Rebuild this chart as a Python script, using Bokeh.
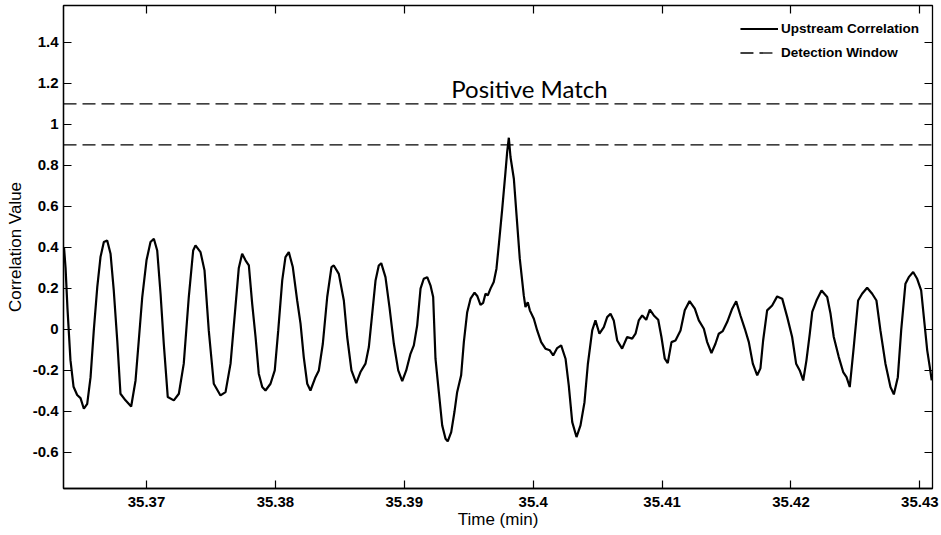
from bokeh.plotting import figure
from bokeh.models import (Range1d, LinearAxis, FixedTicker, CustomJSTickFormatter,
                          Legend, LegendItem, Label)
from bokeh.embed import file_html
from bokeh.resources import INLINE

# Upstream correlation trace: time (min) and correlation value
time_min = [
    35.36360, 35.36372, 35.36387, 35.36410, 35.36434, 35.36462, 35.36488, 35.36514, 35.36540, 35.36566,
    35.36591, 35.36618, 35.36643, 35.36669, 35.36695, 35.36721, 35.36746, 35.36773, 35.36798, 35.36837,
    35.36881, 35.36915, 35.36940, 35.36967, 35.37000, 35.37031, 35.37057, 35.37083, 35.37109, 35.37134,
    35.37165, 35.37212, 35.37251, 35.37289, 35.37328, 35.37362, 35.37380, 35.37419, 35.37450, 35.37483,
    35.37522, 35.37574, 35.37613, 35.37652, 35.37690, 35.37716, 35.37742, 35.37768, 35.37794, 35.37820,
    35.37846, 35.37871, 35.37898, 35.37923, 35.37962, 35.37995, 35.38022, 35.38053, 35.38078, 35.38104,
    35.38135, 35.38169, 35.38195, 35.38220, 35.38247, 35.38272, 35.38311, 35.38337, 35.38368, 35.38402,
    35.38435, 35.38453, 35.38492, 35.38531, 35.38557, 35.38590, 35.38627, 35.38660, 35.38699, 35.38725,
    35.38751, 35.38777, 35.38802, 35.38821, 35.38854, 35.38885, 35.38919, 35.38953, 35.38984, 35.39015,
    35.39048, 35.39074, 35.39100, 35.39126, 35.39151, 35.39178, 35.39203, 35.39224, 35.39242, 35.39268,
    35.39294, 35.39320, 35.39337, 35.39364, 35.39389, 35.39410, 35.39441, 35.39462, 35.39488, 35.39514,
    35.39545, 35.39566, 35.39591, 35.39612, 35.39630, 35.39648, 35.39669, 35.39694, 35.39715, 35.39733,
    35.39760, 35.39785, 35.39798, 35.39811, 35.39824, 35.39850, 35.39871, 35.39896, 35.39927, 35.39940,
    35.39958, 35.39974, 35.40005, 35.40031, 35.40062, 35.40095, 35.40129, 35.40155, 35.40186, 35.40217,
    35.40251, 35.40276, 35.40303, 35.40336, 35.40367, 35.40398, 35.40424, 35.40458, 35.40483, 35.40514,
    35.40548, 35.40574, 35.40600, 35.40625, 35.40652, 35.40690, 35.40729, 35.40768, 35.40794, 35.40819,
    35.40846, 35.40877, 35.40905, 35.40936, 35.40970, 35.40995, 35.41021, 35.41044, 35.41073, 35.41104,
    35.41143, 35.41176, 35.41213, 35.41254, 35.41285, 35.41324, 35.41350, 35.41383, 35.41414, 35.41440,
    35.41471, 35.41505, 35.41544, 35.41575, 35.41608, 35.41642, 35.41673, 35.41704, 35.41738, 35.41763,
    35.41784, 35.41815, 35.41854, 35.41893, 35.41932, 35.41971, 35.42009, 35.42040, 35.42068, 35.42095,
    35.42120, 35.42146, 35.42165, 35.42198, 35.42237, 35.42281, 35.42307, 35.42332, 35.42371, 35.42405,
    35.42431, 35.42456, 35.42487, 35.42521, 35.42552, 35.42591, 35.42630, 35.42663, 35.42694, 35.42733,
    35.42772, 35.42798, 35.42829, 35.42855, 35.42888, 35.42914, 35.42948, 35.42979, 35.43010, 35.43036,
    35.43057, 35.43077, 35.43092,
]
correlation = [
    0.400, 0.300, 0.100, -0.150, -0.280, -0.320, -0.335, -0.387, -0.363, -0.233,
    -0.005, 0.206, 0.353, 0.426, 0.434, 0.369, 0.190, -0.054, -0.314, -0.346,
    -0.376, -0.249, -0.054, 0.158, 0.337, 0.426, 0.442, 0.385, 0.174, -0.070,
    -0.330, -0.346, -0.314, -0.167, 0.158, 0.385, 0.410, 0.377, 0.288, -0.005,
    -0.265, -0.322, -0.306, -0.167, 0.110, 0.300, 0.369, 0.337, 0.312, 0.125,
    -0.037, -0.216, -0.281, -0.298, -0.265, -0.200, -0.005, 0.239, 0.353, 0.377,
    0.304, 0.141, 0.028, -0.135, -0.265, -0.298, -0.233, -0.200, -0.070, 0.158,
    0.304, 0.312, 0.271, 0.141, -0.037, -0.200, -0.262, -0.208, -0.167, -0.086,
    0.076, 0.239, 0.312, 0.323, 0.255, 0.109, -0.070, -0.200, -0.252, -0.200,
    -0.119, -0.078, 0.020, 0.199, 0.247, 0.255, 0.215, 0.158, -0.143, -0.306,
    -0.468, -0.533, -0.546, -0.501, -0.403, -0.306, -0.224, -0.062, 0.084, 0.150,
    0.179, 0.163, 0.120, 0.130, 0.174, 0.166, 0.199, 0.231, 0.296, 0.410,
    0.589, 0.767, 0.865, 0.935, 0.841, 0.735, 0.556, 0.345, 0.166, 0.109,
    0.133, 0.093, 0.052, -0.005, -0.062, -0.094, -0.102, -0.127, -0.091, -0.078,
    -0.143, -0.273, -0.452, -0.525, -0.468, -0.355, -0.170, -0.005, 0.044, -0.021,
    0.011, 0.060, 0.076, 0.044, -0.054, -0.094, -0.037, -0.045, -0.021, 0.044,
    0.068, 0.047, 0.096, 0.068, 0.047, -0.037, -0.143, -0.164, -0.062, -0.054,
    -0.005, 0.093, 0.138, 0.101, 0.044, 0.003, -0.062, -0.115, -0.070, -0.021,
    -0.008, 0.036, 0.101, 0.137, 0.068, 0.003, -0.062, -0.167, -0.224, -0.190,
    -0.054, 0.093, 0.117, 0.161, 0.150, 0.060, -0.037, -0.167, -0.200, -0.249,
    -0.151, -0.021, 0.085, 0.141, 0.190, 0.158, 0.076, -0.037, -0.135, -0.208,
    -0.233, -0.281, -0.086, 0.141, 0.174, 0.203, 0.174, 0.141, -0.005, -0.167,
    -0.281, -0.317, -0.233, -0.005, 0.223, 0.255, 0.280, 0.247, 0.190, 0.028,
    -0.102, -0.184, -0.249,
]

# Detection window bounds
window_bounds = [0.9, 1.1]

# Axis ticks
x_ticks = [35.37, 35.38, 35.39, 35.40, 35.41, 35.42, 35.43]
y_ticks = [-0.6, -0.4, -0.2, 0.0, 0.2, 0.4, 0.6, 0.8, 1.0, 1.2, 1.4]

# Axis limits
x_lo, x_hi = 35.36356, 35.43098
y_lo, y_hi = -0.776, 1.58

annotation_text = "Positive Match"
annotation_x, annotation_y = 35.39971, 1.176

FONT = "Liberation Sans"

p = figure(width=941, height=535, output_backend="svg", toolbar_location=None,
           x_range=Range1d(x_lo, x_hi), y_range=Range1d(y_lo, y_hi),
           min_border_left=63, min_border_right=9, min_border_top=5, min_border_bottom=47,
           x_axis_label="Time (min)", y_axis_label="Correlation Value")

p.xgrid.visible = False
p.ygrid.visible = False
p.outline_line_color = "black"
p.outline_line_width = 1.3
p.background_fill_color = "white"
p.border_fill_color = "white"

x_fmt = CustomJSTickFormatter(code="return (Math.round(tick * 100) / 100).toString();")
y_fmt = CustomJSTickFormatter(code="const v = Math.round(tick * 10) / 10; return v === 0 ? '0' : v.toString();")

for ax, ticks, fmt in ((p.xaxis[0], x_ticks, x_fmt), (p.yaxis[0], y_ticks, y_fmt)):
    ax.ticker = FixedTicker(ticks=ticks)
    ax.formatter = fmt
    ax.major_tick_in = 8
    ax.major_tick_out = 0
    ax.minor_tick_line_color = None
    ax.major_tick_line_width = 1.2
    ax.axis_line_width = 1.3
    ax.major_label_text_font = FONT
    ax.major_label_text_font_style = "bold"
    ax.major_label_text_font_size = "15px"
    ax.major_label_text_color = "black"
    ax.axis_label_text_font = FONT
    ax.axis_label_text_font_style = "normal"
    ax.axis_label_text_font_size = "17px"
    ax.axis_label_text_color = "black"

p.xaxis[0].major_label_standoff = 8
p.xaxis[0].axis_label_standoff = 0
p.yaxis[0].major_label_standoff = 5
p.yaxis[0].axis_label_standoff = 5

# Mirrored tick marks (no labels) on the top and right edges of the box
top_axis = LinearAxis(ticker=FixedTicker(ticks=x_ticks))
right_axis = LinearAxis(ticker=FixedTicker(ticks=y_ticks))
for ax in (top_axis, right_axis):
    ax.major_tick_in = 8
    ax.major_tick_out = 0
    ax.major_tick_line_width = 1.2
    ax.minor_tick_line_color = None
    ax.axis_line_color = None
    ax.major_label_text_font_size = "0px"
    ax.major_label_text_color = None
    ax.major_label_standoff = 0
p.add_layout(top_axis, "above")
p.add_layout(right_axis, "right")

curve = p.line(time_min, correlation, line_color="black", line_width=2.2)

window = p.multi_line(xs=[[x_lo, x_hi] for _ in window_bounds],
                      ys=[[b, b] for b in window_bounds],
                      line_color="black", line_width=1.3, line_dash="13 6")

p.add_layout(Label(x=annotation_x, y=annotation_y, text=annotation_text,
                   text_align="center", text_baseline="middle",
                   text_font="Lato", text_font_size="24px", text_color="black"))

legend = Legend(items=[LegendItem(label="Upstream Correlation", renderers=[curve]),
                       LegendItem(label="Detection Window", renderers=[window])],
                location="top_right", margin=13, padding=0, spacing=3,
                glyph_width=38, glyph_height=21, label_height=21, label_standoff=3,
                border_line_color=None, background_fill_alpha=0,
                label_text_font=FONT, label_text_font_size="13.5px",
                label_text_font_style="bold", label_text_color="black")
p.add_layout(legend)

open("out.html", "w").write(file_html(p, INLINE))
